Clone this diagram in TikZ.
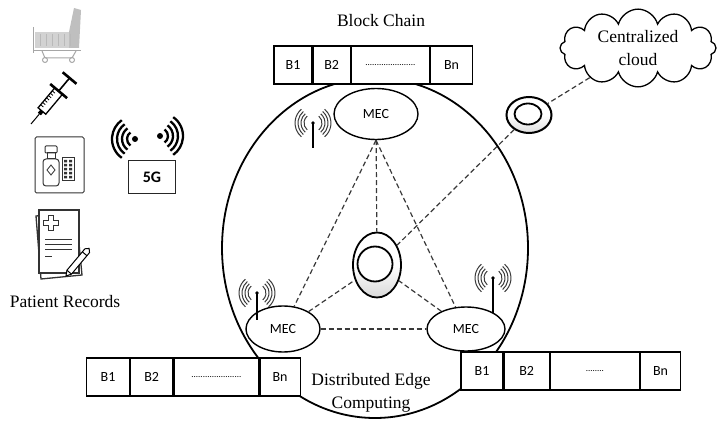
\documentclass[tikz,border=0pt]{standalone}
\usepackage{fontspec}
\setmainfont{Liberation Serif}
\newfontfamily\calibri{Carlito}
\usetikzlibrary{shapes.geometric, shapes.symbols}
\usetikzlibrary{positioning}
\tikzset{blk/.style = {rectangle, line width=1.2pt, draw=black, fill=white, minimum height=38pt, inner sep=0pt, font=\calibri\fontsize{14}{14}\selectfont}}
\tikzset{mec/.style = {ellipse, line width=1.4pt, draw=black, fill=white, inner sep=0pt, font=\calibri\fontsize{14}{14}\selectfont}}
\tikzset{txt/.style = {font=\fontsize{17.5}{23}\selectfont, align=center, inner sep=0pt}}
\tikzset{link/.style = {gray!45!black, line width=1.2pt, dash pattern=on 5pt off 3pt}}
\tikzset{icon/.style = {gray!40!black, line width=1pt}}
\tikzset{pics/antenna/.style = {code={
	\fill (0,0) circle[radius=1.8pt];
	\draw[line width=1.3pt] (0,0) -- (0,#1);
	\foreach \r in {9,12,15,18}{
		\draw[gray!45!black, line width=1pt] (130:\r) arc[start angle=130, end angle=230, radius=\r];
		\draw[gray!45!black, line width=1pt] (-50:\r) arc[start angle=-50, end angle=50, radius=\r];
	}}}}

\begin{document}
\begin{tikzpicture}[x=1pt, y=-1pt]
	\useasboundingbox (0,0) rectangle (717,422);

	% edge area
	\draw[line width=1.8pt] (375,248) ellipse[x radius=153, y radius=170];

	% hospital bed
	\begin{scope}[gray!70, line width=1pt]
		\fill[gray!35] (35,32) rectangle (74,48);
		\fill[gray!50] (69,32) -- (74,8) -- (81,10) -- (79,48) -- (69,48) -- cycle;
		\foreach \x in {40,46,...,70} \draw[gray!55] (\x,34) -- (\x,46);
		\draw (33,27) -- (33,53);
		\draw (33,51) -- (81,51);
		\draw (42,51) -- (45,58) (76,51) -- (72,58) (45,58) -- (72,58);
		\draw (45,60) circle[radius=2.5] (72,60) circle[radius=2.5];
	\end{scope}

	% syringe
	\begin{scope}[shift={(31,124)}, rotate=50, line width=1pt]
		\draw (0,0) -- (13,0);
		\fill (13,-2) rectangle (17,2);
		\draw[line width=1.3pt] (17,-5) rectangle (43,5);
		\foreach \t in {21,24,...,39} \draw[line width=0.8pt] (\t,-5) -- (\t,-1.5);
		\draw[line width=2.6pt] (43,-11) -- (43,11);
		\draw[line width=1.6pt] (43,0) -- (60,0);
		\draw[line width=2.6pt] (60,-9) -- (60,9);
	\end{scope}

	% medicine box
	\draw[icon, rounded corners=1.5pt] (35,137) rectangle (84,193);
	\draw[icon, rounded corners=1pt] (45,146) rectangle (57,153);
	\draw[icon] (47,153) rectangle (55,159);
	\draw[icon, rounded corners=3pt] (43,159) rectangle (59,186);
	\draw[icon, line width=0.8pt] (51,165) -- (55,170) -- (51,175) -- (47,170) -- cycle;
	\draw[icon, line width=0.8pt] (62,157) rectangle (74,180);
	\foreach \y in {160,164,...,176} \fill[gray!40!black] (64,\y) rectangle (67,\y+2.5) (69,\y) rectangle (72,\y+2.5);

	% patient records
	\draw[icon, line width=1.3pt, fill=white] (36,216) -- (76,212) -- (82,275) -- (41,279) -- cycle;
	\draw[icon, line width=1.3pt, fill=white] (39,210) rectangle (79,273);
	\draw[icon, line width=1pt] (48,215) -- (53,215) -- (53,220) -- (58,220) -- (58,225) -- (53,225) -- (53,230) -- (48,230) -- (48,225) -- (43,225) -- (43,220) -- (48,220) -- cycle;
	\foreach \y in {239,244,249} \draw[icon, line width=0.9pt] (45,\y) -- (72,\y);
	\draw[icon, line width=0.9pt] (45,256) -- (52,256);
	\begin{scope}[shift={(66,276)}, rotate=50, line width=1pt]
		\draw[fill=white] (0,0) -- (5,-3) -- (33,-3) -- (36,0) -- (33,3) -- (5,3) -- cycle;
		\draw (5,-3) -- (5,3) (29,-3) -- (29,3);
	\end{scope}

	% 5G signal
	\fill (135,139) circle[radius=3];
	\fill (160,136) circle[radius=3];
	\foreach \r in {8,13,18,23}{
		\draw[line width=2.3pt] (135,139) ++(125:\r) arc[start angle=125, end angle=235, radius=\r];
		\draw[line width=2.3pt] (160,136) ++(-55:\r) arc[start angle=-55, end angle=55, radius=\r];
	}
	\node (fiveg) [rectangle, draw=gray!30!black, line width=1.3pt, minimum width=47pt, minimum height=33pt, inner sep=0pt, font=\calibri\bfseries\fontsize{16}{16}\selectfont] at (152,177) {5G};

	\node (records) [txt] at (65,302) {Patient Records};

	% block chains
	\node (bctitle) [txt] at (381,21) {Block Chain};
	\node (tb1) [blk, minimum width=38pt] at (293,65) {B1};
	\node (tb2) [blk, minimum width=37pt, right=0pt of tb1] {B2};
	\node (tdot) [blk, minimum width=78pt, right=0pt of tb2] {\fontsize{9}{9}\selectfont ......................};
	\node (tbn) [blk, minimum width=42pt, right=0pt of tdot] {Bn};

	\node (lb1) [blk, minimum width=43pt] at (108,377) {B1};
	\node (lb2) [blk, minimum width=42pt, right=0pt of lb1] {B2};
	\node (ldot) [blk, minimum width=85pt, right=0pt of lb2] {\fontsize{9}{9}\selectfont ......................};
	\node (lbn) [blk, minimum width=40pt, right=0pt of ldot] {Bn};

	\node (rb1) [blk, minimum width=42pt] at (482,371) {B1};
	\node (rb2) [blk, minimum width=45pt, right=0pt of rb1] {B2};
	\node (rdot) [blk, minimum width=89pt, right=0pt of rb2] {\fontsize{9}{9}\selectfont ........};
	\node (rbn) [blk, minimum width=40pt, right=0pt of rdot] {Bn};

	% MEC servers
	\node (mectop) [mec, minimum width=84pt, minimum height=51pt] at (376,114) {MEC};
	\node (mecl) [mec, minimum width=74pt, minimum height=46pt] at (283,329) {MEC};
	\node (mecr) [mec, minimum width=78pt, minimum height=44pt] at (466,329) {MEC};
	\pic at (313,123) {antenna=25};
	\pic at (257,293) {antenna=27};
	\pic at (493,278) {antenna=35};

	% core and cloud
	\node (egg) [ellipse, draw, line width=1.8pt, top color=white, bottom color=gray!30, middle color=white, minimum width=48pt, minimum height=65pt] at (377,265) {};
	\node (core) [circle, draw, line width=1.8pt, fill=white, minimum size=35pt] at (375,264) {};
	\node (hub) [ellipse, draw, line width=2pt, top color=white, bottom color=gray!25, middle color=white, minimum width=45pt, minimum height=36pt] at (529,115) {};
	\node (hubin) [ellipse, draw, line width=1.8pt, fill=white, minimum width=27pt, minimum height=21pt] at (528,114) {};
	\node (cloud) [cloud, draw, line width=1.3pt, fill=white, cloud puffs=12, aspect=2, minimum width=156pt, minimum height=76pt, txt] at (638,48) {Centralized\\cloud};

	\node (edge) [txt] at (371,393) {Distributed Edge\\Computing};

	\draw [link] (mectop) -- (egg);
	\draw [link] (mectop.south) -- (mecl);
	\draw [link] (mectop.south) -- (mecr);
	\draw [link] (mecl) -- (egg);
	\draw [link] (mecr) -- (egg);
	\draw [link] (mecl) -- (mecr);
	\draw [link] (cloud) -- (hub);
	\draw [link] (hub) -- (egg);
\end{tikzpicture}
\end{document}
